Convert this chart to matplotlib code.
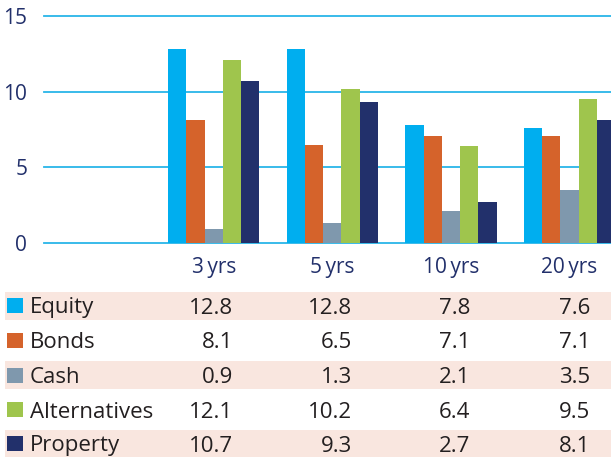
import matplotlib
matplotlib.use("Agg")
import matplotlib.pyplot as plt
from matplotlib.patches import Rectangle

# ---- data ----
categories = ["", "3\u2009yrs", "5\u2009yrs", "10\u2009yrs", "20\u2009yrs"]
series_names = ["Equity", "Bonds", "Cash", "Alternatives", "Property"]
equity = [None, 12.8, 12.8, 7.8, 7.6]
bonds = [None, 8.1, 6.5, 7.1, 7.1]
cash = [None, 0.9, 1.3, 2.1, 3.5]
alternatives = [None, 12.1, 10.2, 6.4, 9.5]
property_ = [None, 10.7, 9.3, 2.7, 8.1]
yticks = [0, 5, 10, 15]

series = [equity, bonds, cash, alternatives, property_]
colors = ["#00aeef", "#d5632b", "#7f98ad", "#9fc54d", "#22306b"]
navy = "#22306b"
pink = "#f9e6df"
txt = "#231f20"

W, H = 611, 457
plt.rcParams['font.family'] = ['Open Sans', 'DejaVu Sans']
fig = plt.figure(figsize=(W / 100, H / 100), dpi=100)

ax = fig.add_axes([44 / W, (H - 243) / H, (W - 44) / W, 227 / H])
bw = 0.154
n = len(series)
for si, (vals, c) in enumerate(zip(series, colors)):
    xs = []
    hs = []
    for ci, v in enumerate(vals):
        if v is None:
            continue
        xs.append(ci + (si - (n - 1) / 2) * bw)
        hs.append(v)
    ax.bar(xs, hs, width=bw, color=c, zorder=3, linewidth=0)

ax.set_xlim(-0.431, 4.35)
ax.set_ylim(0, 15)
ax.set_yticks(yticks)
ax.set_yticklabels([str(t) for t in yticks])
ax.set_xticks(range(len(categories)))
ax.set_xticklabels(categories)
for t in yticks:
    ax.axhline(t, color="#29b5e8", lw=1.3, zorder=1, clip_on=False)
for s in ax.spines.values():
    s.set_visible(False)
ax.tick_params(axis="both", length=0, labelsize=15, colors=navy)
ax.tick_params(axis="y", pad=12)
ax.tick_params(axis="x", pad=10)

# ---- table ----
row_centers = [305.5, 340.5, 375, 409.5, 443.5]
col_right = [233, 352, 470, 590]
band_h = 28
fs = 16
for ri, (name, vals, c) in enumerate(zip(series_names, series, colors)):
    yc = row_centers[ri]
    if ri % 2 == 0:
        fig.patches.append(Rectangle((5 / W, (H - yc - band_h / 2) / H), (W - 5) / W, band_h / H,
                                     transform=fig.transFigure, facecolor=pink, edgecolor="none", zorder=0))
    fig.patches.append(Rectangle((7 / W, (H - yc - 7.5) / H), 16 / W, 15 / H,
                                 transform=fig.transFigure, facecolor=c, edgecolor="none", zorder=1))
    fig.text(30 / W, (H - yc) / H, name, fontsize=fs, color=txt, va="center_baseline", ha="left")
    for ci, v in enumerate([v for v in vals if v is not None]):
        fig.text(col_right[ci] / W, (H - yc) / H, f"{v:.1f}", fontsize=fs, color=txt,
                 va="center_baseline", ha="right")

fig.savefig("out.png", dpi=100)
